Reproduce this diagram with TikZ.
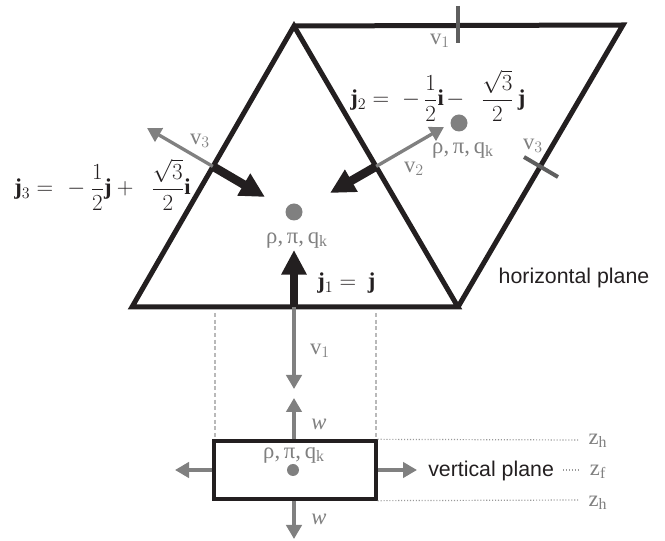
\documentclass[tikz,border=0pt]{standalone}
\usepackage{fontspec}
\setmainfont{Liberation Serif}
\newfontfamily\sansf{Liberation Sans}
\usetikzlibrary{arrows.meta}
\definecolor{ink}{RGB}{35,31,32}
\definecolor{gr}{RGB}{128,128,128}
\definecolor{tk}{RGB}{95,95,95}
\definecolor{dl}{RGB}{185,185,185}
\begin{document}
\begin{tikzpicture}[x=0.75pt,y=-0.75pt,
 edge/.style={ink,line width=3.75pt,line join=miter},
 jarrow/.style={ink,line width=6.5pt,-{Triangle[length=18.5pt,width=18pt]}},
 varrow/.style={gr,line width=2.5pt,-{Triangle[length=10.5pt,width=11.5pt]}},
 tickmark/.style={tk,line width=3pt},
 dotn/.style={circle,fill=gr,inner sep=0pt,minimum size=#1},
 glab/.style={text=gr,font=\fontsize{17}{19}\selectfont,inner sep=0pt},
 eq/.style={text=ink,font=\fontsize{17}{20}\selectfont,inner sep=0pt},
 sans/.style={text=ink,font=\sansf\fontsize{16}{19}\selectfont,inner sep=0pt},
 guide/.style={dl,line width=0.8pt,dash pattern=on 3pt off 2pt},
 dotline/.style={gr!80,line width=0.9pt,dash pattern=on 0.8pt off 1.4pt}]
\useasboundingbox (0,0) rectangle (665,541);
% vertices
\coordinate (A) at (294,26);
\coordinate (BL) at (132,307);
\coordinate (BR) at (458,307);
\coordinate (TR) at (623,25);
% triangles
\draw[edge] (A) -- (BL) -- (BR) -- cycle;
\draw[edge] (A) -- (TR) -- (BR);
% ticks
\coordinate (t1a) at (458,6); \coordinate (t1b) at (458,43);
\draw[tickmark] (t1a) -- (t1b);
\coordinate (t3a) at (524,157); \coordinate (t3b) at (558,177);
\draw[tickmark] (t3a) -- (t3b);
\node[glab] (lv1t) at (440,41) {v$_1$};
\node[glab] (lv3t) at (533,146) {v$_3$};
% dots
\node[dotn=12.75pt] (c1) at (294,212) {};
\node[dotn=12.75pt] (c2) at (459,123) {};
\node[glab] (q1) at (297,240) {ρ,\,π,\,q$_{\mathrm{k}}$};
\node[glab] (q2) at (463,150) {ρ,\,π,\,q$_{\mathrm{k}}$};
% edge midpoints and tips
\coordinate (M1) at (294,307);
\coordinate (j1t) at (294,250);
\coordinate (v1t) at (294,389);
\coordinate (M3) at (213,166.5);
\coordinate (j3t) at (265,197);
\coordinate (v3t) at (147,128);
\coordinate (M2) at (376,166.5);
\coordinate (j2t) at (330,193);
\coordinate (v2t) at (444,127);
\draw[varrow] (M1) -- (v1t);
\draw[varrow] (M3) -- (v3t);
\draw[varrow] (M2) -- (v2t);
\draw[jarrow] (M1) -- (j1t);
\draw[jarrow] (M3) -- (j3t);
\draw[jarrow] (M2) -- (j2t);
\node[glab] (lv3) at (200,141) {v$_3$};
\node[glab] (lv2) at (414,169) {v$_2$};
\node[glab] (lv1) at (320,351) {v$_1$};
% equations
\node[eq,anchor=base west] (e3) at (14,195) {$\displaystyle \mathbf{j}_3 = \mkern6mu {-}\mkern4mu \frac{1}{2}\mathbf{j} + \mkern10mu \frac{\sqrt{3}}{2}\mathbf{i}$};
\node[eq,anchor=base west] (e2) at (350,106) {$\displaystyle \mathbf{j}_2 = \mkern5mu {-}\mkern3mu \frac{1}{2}\mathbf{i} \mkern-2mu - \mkern9mu \frac{\sqrt{3}}{2}\,\mathbf{j}$};
\node[eq,anchor=base west] (e1) at (317,289) {$\mathbf{j}_1 = \mkern4mu \mathbf{j}$};
\node[sans] (hp) at (574,278) {horizontal plane};
% vertical plane box
\coordinate (g1a) at (215,313); \coordinate (g1b) at (215,440);
\coordinate (g2a) at (376,313); \coordinate (g2b) at (376,440);
\draw[guide] (g1a) -- (g1b);
\draw[guide] (g2a) -- (g2b);
\node[draw=ink,line width=3pt,minimum width=121pt,minimum height=43pt,inner sep=0pt] (box) at (295,470) {};
\node[dotn=9pt] (c3) at (293,470) {};
\node[glab] (q3) at (294,455) {ρ,\,π,\,q$_{\mathrm{k}}$};
\coordinate (wt1) at (294,398);
\coordinate (wt2) at (294,539);
\coordinate (lt) at (175,470);
\coordinate (rt) at (417,470);
\draw[varrow] (box.north -| wt1) -- (wt1);
\draw[varrow] (box.south -| wt2) -- (wt2);
\draw[varrow] (box.west) -- (lt);
\draw[varrow] (box.east) -- (rt);
\node[glab,font=\itshape\fontsize{17}{19}\selectfont] (w1) at (319,424) {w};
\node[glab,font=\itshape\fontsize{17}{19}\selectfont] (w2) at (319,519) {w};
\node[sans,anchor=west] (vp) at (428,471) {vertical plane};
\coordinate (d1) at (580,440); \coordinate (d2) at (580,500);
\coordinate (d3a) at (563,470); \coordinate (d3b) at (580,470);
\draw[dotline] (box.north east) -- (d1);
\draw[dotline] (box.south east) -- (d2);
\draw[dotline] (d3a) -- (d3b);
\node[glab] (zh1) at (598,441) {z$_{\mathrm{h}}$};
\node[glab] (zf) at (598,472) {z$_{\mathrm{f}}$};
\node[glab] (zh2) at (598,503) {z$_{\mathrm{h}}$};
\end{tikzpicture}
\end{document}
